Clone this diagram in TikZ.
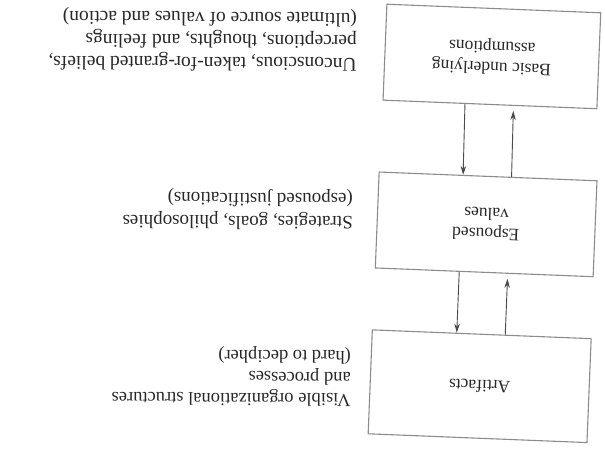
\documentclass[tikz,border=0pt]{standalone}
\usepackage{fontspec}
\setmainfont{Liberation Serif}
\usetikzlibrary{calc,arrows.meta}
\definecolor{boxgray}{HTML}{8C8C8C}
\definecolor{inkgray}{HTML}{282828}
\definecolor{arrowgray}{HTML}{4A4A4A}
\begin{document}
\begin{tikzpicture}[x=1pt,y=-1pt,
  layerbox/.style={draw=boxgray, line width=1.1pt, minimum width=218pt,
    minimum height=96pt, align=center, text=inkgray, inner sep=0pt,
    font=\fontsize{17.5}{20.5}\selectfont},
  note/.style={rotate=179.6, anchor=west, align=left, text=inkgray, inner sep=0pt},
  flow/.style={draw=arrowgray, line width=0.9pt,
    -{Stealth[length=9pt,width=5.5pt]}}]
\useasboundingbox (0,0) rectangle (605,449);
\fill[white] (0,0) rectangle (605,449);
% the boxes are laid out upright, then turned over as a whole
\begin{scope}[rotate around={177.7:(302.5,224.5)}, transform shape]
  % the three levels
  \node[layerbox, minimum width=219pt, minimum height=104pt] (art) at (119,70) {Artifacts};
  \node[layerbox] (esp) at (119,232) {Espoused\\values};
  \node[layerbox, minimum width=214pt] (bua) at (120,400) {Basic underlying\\assumptions};
  % downward links
  \draw[flow, shorten >=5pt] ($(art.south)!23.5pt!(art.south west)$) -- ($(esp.north)!23.5pt!(esp.north west)$);
  \draw[flow, shorten >=5pt] ($(esp.south)!23.5pt!(esp.south west)$) -- ($(bua.north)!23.5pt!(bua.north west)$);
  % upward links
  \draw[flow] ($(esp.north)!25pt!(esp.north east)$) -- ($(art.south)!25pt!(art.south east)$);
  \draw[flow] ($(bua.north)!25pt!(bua.north east)$) -- ($(esp.south)!25pt!(esp.south east)$);
\end{scope}
% descriptions beside each level (turned over too)
\node[note, font=\fontsize{19.5}{22.5}\selectfont] (buanote) at (357,40.5)
  {Unconscious, taken-for-granted beliefs,\\perceptions, thoughts, and feelings\\(ultimate source of values and action)};
\node[note, font=\fontsize{19}{23}\selectfont] (espnote) at (353,210)
  {Strategies, goals, philosophies\\(espoused justifications)};
\node[note, font=\fontsize{18.5}{21.5}\selectfont] (artnote) at (351,377)
  {Visible organizational structures\\and processes\\(hard to decipher)};
\end{tikzpicture}
\end{document}
